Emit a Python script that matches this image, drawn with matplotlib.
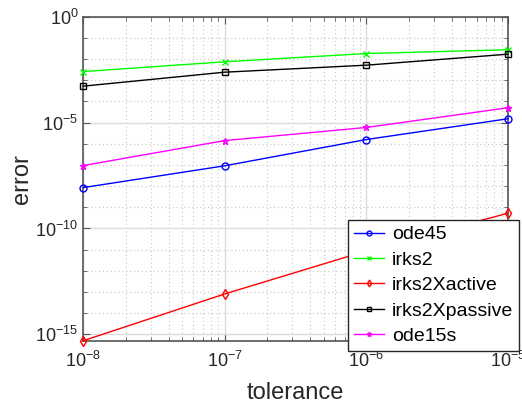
import matplotlib
matplotlib.use("Agg")
import matplotlib.pyplot as plt
from matplotlib.ticker import LogLocator, NullFormatter, FixedLocator
import numpy as np

plt.rcParams['font.family'] = ['Liberation Sans', 'DejaVu Sans']
plt.rcParams['mathtext.fontset'] = 'custom'
plt.rcParams['mathtext.rm'] = 'Liberation Sans'
plt.rcParams['mathtext.it'] = 'Liberation Sans'
plt.rcParams['mathtext.bf'] = 'Liberation Sans'

tolerance = [1e-8, 1e-7, 1e-6, 1e-5]
ode45 = [10**-8.07, 10**-7.04, 10**-5.80, 10**-4.82]
irks2 = [10**-2.59, 10**-2.13, 10**-1.74, 10**-1.56]
irks2Xactive = [10**-15.30, 10**-13.09, 10**-11.06, 10**-9.28]
irks2Xpassive = [10**-3.28, 10**-2.62, 10**-2.29, 10**-1.77]
ode15s = [10**-7.03, 10**-5.85, 10**-5.23, 10**-4.30]

series = [
    ("ode45", ode45, "#0000ff", "o"),
    ("irks2", irks2, "#00ff00", "x"),
    ("irks2Xactive", irks2Xactive, "#ff0000", "d"),
    ("irks2Xpassive", irks2Xpassive, "#000000", "s"),
    ("ode15s", ode15s, "#ff00ff", "*"),
]

fig = plt.figure(figsize=(5.22, 4.05), dpi=100)
ax = fig.add_axes([0.1596, 0.1588, 0.8136, 0.8000])

for name, vals, col, mk in series:
    ax.plot(tolerance, vals, color=col, marker=mk, markersize=5,
            markerfacecolor='none', markeredgecolor=col, linewidth=1.0,
            markeredgewidth=1.0, label=name, clip_on=False, zorder=3)

ax.set_xscale('log')
ax.set_yscale('log')
ax.set_xlim(1e-8, 1e-5)
ax.set_ylim(10**-15.30, 1)

ax.xaxis.set_major_locator(FixedLocator([1e-8, 1e-7, 1e-6, 1e-5]))
ax.xaxis.set_minor_locator(LogLocator(base=10, subs=np.arange(2, 10), numticks=20))
ax.xaxis.set_minor_formatter(NullFormatter())
ax.set_xticklabels([r'$10^{-8}$', r'$10^{-7}$', r'$10^{-6}$', r'$10^{-5}$'])

ax.yaxis.set_major_locator(FixedLocator([1e-15, 1e-10, 1e-5, 1e0]))
ax.yaxis.set_minor_locator(FixedLocator([10.0**k for k in range(-16, 1)]))
ax.yaxis.set_minor_formatter(NullFormatter())
ax.set_yticklabels([r'$10^{-15}$', r'$10^{-10}$', r'$10^{-5}$', r'$10^{0}$'])

ax.grid(True, which='major', color='#dcdcdc', linewidth=1.0, linestyle='-')
ax.grid(True, which='minor', color='#c8c8c8', linewidth=0.8, linestyle=(0, (1, 2.5)))
ax.set_axisbelow(True)

for sp in ax.spines.values():
    sp.set_color('#555555')
    sp.set_linewidth(1.2)

ax.tick_params(which='both', direction='in', top=True, right=True,
               colors='#555555', labelcolor='#262626', labelsize=13)
ax.tick_params(which='major', length=5)
ax.tick_params(which='minor', length=3)
ax.tick_params(axis='x', pad=7)

ax.set_xlabel('tolerance', fontsize=17, color='#262626', labelpad=8)
ax.set_ylabel('error', fontsize=17, color='#262626', labelpad=2)

leg = ax.legend(loc='lower left', bbox_to_anchor=(0.667, 0.134),
                bbox_transform=fig.transFigure, fontsize=14, frameon=True,
                fancybox=False, framealpha=1, edgecolor='#262626',
                handlelength=1.55, handletextpad=0.4, labelspacing=0.4,
                borderpad=0.3, borderaxespad=0, markerscale=0.7)
leg.get_frame().set_linewidth(1.0)
leg.set_zorder(5)

fig.savefig('out.png', dpi=100)
